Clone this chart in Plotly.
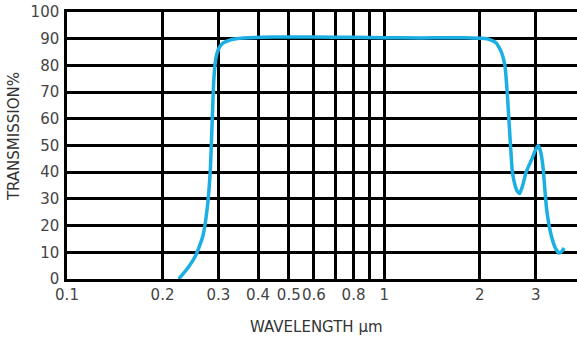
import numpy as np
import plotly.graph_objects as go

# ── Data ──────────────────────────────────────────────────────────────────────
wavelength = [0.225, 0.24, 0.255, 0.268, 0.277, 0.283, 0.287, 0.290, 0.294,
              0.300, 0.31, 0.33, 0.36, 0.45, 0.6, 0.8, 1.0, 1.3, 1.6, 2.0,
              2.11, 2.25, 2.34, 2.40, 2.44, 2.47, 2.53, 2.56, 2.62, 2.67,
              2.73, 2.80, 2.92, 3.00, 3.06, 3.12, 3.17, 3.21, 3.25, 3.34,
              3.45, 3.55, 3.62, 3.69]
transmission = [0, 4, 9, 16, 27, 41, 60, 74, 82,
                86, 88.3, 89.7, 90.3, 90.6, 90.6, 90.5, 90.4, 90.3, 90.4, 90.2,
                90, 88.5, 85, 80, 70, 60, 41, 37, 33, 32,
                35, 40, 45, 48.5, 50, 47, 41, 33, 26, 17.6,
                12, 9.7, 10.2, 11.6]

x_tickvals = [0.1, 0.2, 0.3, 0.4, 0.5, 0.6, 0.7, 0.8, 0.9, 1, 2, 3]
x_ticktext = ["0.1", "0.2", "0.3", "0.4", "0.5", "0.6", "", "0.8", "", "1", "2", "3"]
y_tickvals = list(range(0, 101, 10))

LINE = "#1BAFE3"
TEXT = "#444444"
FONT = "DejaVu Sans, Verdana, sans-serif"

fig = go.Figure(go.Scatter(
    x=wavelength,
    y=transmission,
    mode="lines",
    line=dict(color=LINE, width=3.5, shape="spline", smoothing=0.5),
    showlegend=False,
))

fig.update_layout(
    width=577,
    height=337,
    paper_bgcolor="white",
    plot_bgcolor="white",
    margin=dict(l=67, r=0, t=12, b=58),
    font=dict(family=FONT, color=TEXT, size=15),
    xaxis=dict(
        type="log",
        range=[-1, np.log10(4.05)],
        tickvals=x_tickvals,
        ticktext=x_ticktext,
        tickangle=0,
        showgrid=True,
        gridcolor="black",
        gridwidth=2.5,
        showline=True,
        linecolor="black",
        linewidth=2.5,
        mirror=True,
        ticks="",
        tickfont=dict(size=15, color=TEXT),
        automargin=False,
        zeroline=False,
    ),
    yaxis=dict(
        range=[0, 100],
        tickvals=y_tickvals,
        showgrid=True,
        gridcolor="black",
        gridwidth=2.5,
        showline=True,
        linecolor="black",
        linewidth=2.5,
        ticks="",
        ticklabelstandoff=2,
        tickfont=dict(size=15, color=TEXT),
        automargin=False,
        zeroline=False,
    ),
    annotations=[
        dict(text="WAVELENGTH μm", xref="paper", yref="paper", x=0.49, y=-0.178,
             xanchor="center", yanchor="middle", showarrow=False,
             font=dict(size=15, color="#333333")),
        dict(text="TRANSMISSION%", xref="paper", yref="paper", x=-0.104, y=0.535,
             xanchor="center", yanchor="middle", textangle=-90, showarrow=False,
             font=dict(size=15, color="#333333")),
    ],
)

# drop the page's default body margin so the figure sits at the top-left corner
fig.write_html("out.html", config={"displayModeBar": False},
               post_script="document.body.style.margin='0';")
